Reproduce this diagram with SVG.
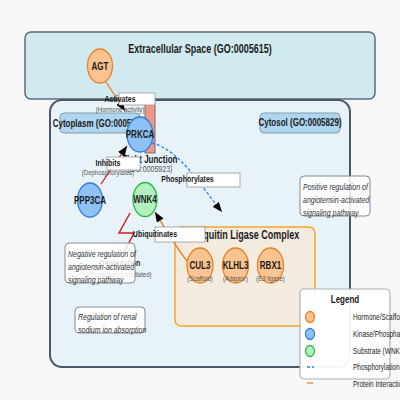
<svg xmlns="http://www.w3.org/2000/svg" width="400" height="400" viewBox="0 0 400 400">
<defs>
<style>
text{font-family:"Liberation Sans",Arial,sans-serif;fill:#1a1a1a}
.title{font-size:12px;font-weight:bold;text-anchor:middle}
.node{font-size:10.67px;font-weight:bold;text-anchor:middle}
.el{font-size:9.33px;font-weight:bold;text-anchor:middle}
.sub{font-size:8px;text-anchor:middle;fill:#555}
.go{font-size:9.33px;text-anchor:middle;fill:#555}
.note{font-size:9.33px;font-style:italic;fill:#333}
.lg{font-size:8.67px;fill:#222}
.lrect{fill:#fff;stroke:#999;stroke-width:0.8}
.notebox{fill:#fff;fill-opacity:0.85;stroke:#7f8c99;stroke-width:1}
.hs{fill:#f9c492;stroke:#e8822a;stroke-width:1.3}
.kp{fill:#8fc1f4;stroke:#2d7fe0;stroke-width:1.3}
.sb{fill:#b3f0bd;stroke:#2db84a;stroke-width:1.3}
.cmp{fill:#aed6f1;stroke:#8a9aa8;stroke-width:1}
.int{fill:none;stroke:#e67e22;stroke-width:1.3}
.inh{fill:none;stroke:#c62828;stroke-width:1.3}
.pho{fill:none;stroke:#2e86de;stroke-width:1.3;stroke-dasharray:3,2}
</style>
<marker id="ah" markerUnits="userSpaceOnUse" markerWidth="10" markerHeight="8" refX="10" refY="4" orient="auto"><path d="M0,0 L10,4 L0,8 z" fill="#000"/></marker>
</defs>
<rect x="0" y="0" width="400" height="400" fill="#f8f8f8"/>

<g id="extracellular">
<rect x="25" y="32" width="350" height="67" rx="6" fill="#d1eaf0" stroke="#5b6b7b" stroke-width="1.5"/>
<text class="title" transform="translate(200,53) scale(0.75,1)">Extracellular Space (GO:0005615)</text>
</g>

<g id="cell">
<rect x="50" y="100" width="300" height="267" rx="12" fill="#e7f3f8" stroke="#4a5868" stroke-width="2"/>
</g>

<g id="cytoplasm">
<rect class="cmp" x="60" y="113" width="80" height="20" rx="4"/>
<text class="node" transform="translate(100,127) scale(0.75,1)">Cytoplasm (GO:0005737)</text>
</g>
<g id="cytosol">
<rect class="cmp" x="260" y="113" width="80" height="20" rx="4"/>
<text class="node" transform="translate(300,126) scale(0.75,1)">Cytosol (GO:0005829)</text>
</g>

<g id="tight-junction">
<rect x="145" y="103" width="10" height="50" fill="#f1948a" stroke="#7a6a6a" stroke-width="1"/>
<text class="node" transform="translate(150,163) scale(0.75,1)">Tight Junction</text>
<text class="go" transform="translate(150,172) scale(0.75,1)">(GO:0005923)</text>
</g>

<g id="ubiquitin-complex">
<rect x="175" y="227" width="140" height="99" rx="6" fill="#f4ebdf" stroke="#f5a623" stroke-width="1.5"/>
<text class="title" transform="translate(244,239) scale(0.75,1)">Ubiquitin Ligase Complex</text>
</g>

<g id="connectors">
<path class="int" d="M106,82 L125,111" marker-end="url(#ah)"/>
<path class="inh" d="M101,184 L127,146" marker-end="url(#ah)"/>
<path class="pho" d="M152,143 C180,150 200,185 222,212" marker-end="url(#ah)"/>
<path class="int" d="M187,261 C178,250 166,230 155,212" marker-end="url(#ah)"/>
<polyline points="130,213 119,233 134,233 124,252" fill="none" stroke="#cc2222" stroke-width="1.5"/>
</g>

<g id="edge-labels">
<rect class="lrect" x="119" y="93" width="36" height="12"/>
<text class="el" transform="translate(120,102) scale(0.75,1)">Activates</text>
<text class="sub" transform="translate(120,112) scale(0.75,1)">(Hormone activity)</text>
<rect class="lrect" x="107" y="157" width="33" height="13"/>
<text class="el" transform="translate(108,166) scale(0.75,1)">Inhibits</text>
<text class="sub" transform="translate(108,175) scale(0.75,1)">(Dephosphorylates)</text>
<rect class="lrect" x="187" y="173" width="53" height="14"/>
<text class="el" transform="translate(187.5,182) scale(0.75,1)">Phosphorylates</text>
<rect class="lrect" x="155" y="227" width="50" height="15"/>
<text class="el" transform="translate(155,237) scale(0.75,1)">Ubiquitinates</text>
<text class="el" transform="translate(120,266) scale(0.75,1)">Degradation</text>
<text class="sub" transform="translate(120,277) scale(0.75,1)">(Proteasome-mediated)</text>
</g>

<g id="AGT">
<ellipse class="hs" cx="100" cy="66" rx="12.5" ry="17"/>
<text class="node" transform="translate(100,69.5) scale(0.75,1)">AGT</text>
</g>
<g id="PRKCA">
<ellipse class="kp" cx="140" cy="134.5" rx="13" ry="17.5"/>
<text class="node" transform="translate(140,138) scale(0.75,1)">PRKCA</text>
</g>
<g id="PPP3CA">
<ellipse class="kp" cx="90" cy="200" rx="12.5" ry="17"/>
<text class="node" transform="translate(90,203.5) scale(0.75,1)">PPP3CA</text>
</g>
<g id="WNK4">
<ellipse class="sb" cx="145" cy="199.5" rx="12" ry="17"/>
<text class="node" transform="translate(145,203) scale(0.75,1)">WNK4</text>
</g>
<g id="CUL3">
<ellipse class="hs" cx="200" cy="265.5" rx="13" ry="17.5"/>
<text class="node" transform="translate(200,269) scale(0.75,1)">CUL3</text>
<text class="sub" transform="translate(200,281) scale(0.75,1)">(Scaffold)</text>
</g>
<g id="KLHL3">
<ellipse class="hs" cx="235.5" cy="265.5" rx="13" ry="17.5"/>
<text class="node" transform="translate(235.5,269) scale(0.75,1)">KLHL3</text>
<text class="sub" transform="translate(235.5,281) scale(0.75,1)">(Adaptor)</text>
</g>
<g id="RBX1">
<ellipse class="hs" cx="270.5" cy="265.5" rx="13" ry="17.5"/>
<text class="node" transform="translate(270.5,269) scale(0.75,1)">RBX1</text>
<text class="sub" transform="translate(270.5,281) scale(0.75,1)">(E3 ligase)</text>
</g>

<g id="note-positive">
<rect class="notebox" x="300" y="176" width="70" height="40" rx="4"/>
<text class="note" transform="translate(303,190) scale(0.75,1)">Positive regulation of</text>
<text class="note" transform="translate(303,203) scale(0.75,1)">angiotensin-activated</text>
<text class="note" transform="translate(303,216) scale(0.75,1)">signaling pathway</text>
</g>
<g id="note-negative">
<rect class="notebox" x="65" y="243" width="70" height="40" rx="4"/>
<text class="note" transform="translate(68,257) scale(0.75,1)">Negative regulation of</text>
<text class="note" transform="translate(68,270) scale(0.75,1)">angiotensin-activated</text>
<text class="note" transform="translate(68,283) scale(0.75,1)">signaling pathway</text>
</g>
<g id="note-renal">
<rect class="notebox" x="75" y="307" width="70" height="26" rx="4"/>
<text class="note" transform="translate(78,320) scale(0.75,1)">Regulation of renal</text>
<text class="note" transform="translate(78,333) scale(0.75,1)">sodium ion absorption</text>
</g>

<g id="legend">
<rect x="300" y="289" width="90" height="90" rx="4" fill="#fff" fill-opacity="0.95" stroke="#aab2bb" stroke-width="1.2"/>
<text class="node" transform="translate(345,303) scale(0.75,1)">Legend</text>
<ellipse class="hs" cx="310" cy="317" rx="4.5" ry="5.5"/>
<text class="lg" transform="translate(353,320) scale(0.75,1)">Hormone/Scaffold</text>
<ellipse class="kp" cx="310" cy="334" rx="4.5" ry="5.5"/>
<text class="lg" transform="translate(353,337) scale(0.75,1)">Kinase/Phosphatase</text>
<ellipse class="sb" cx="310" cy="351" rx="4.5" ry="5.5"/>
<text class="lg" transform="translate(353,354) scale(0.75,1)">Substrate (WNK4)</text>
<line class="pho" x1="307" y1="367" x2="314" y2="367"/>
<text class="lg" transform="translate(353,370) scale(0.75,1)">Phosphorylation</text>
<line class="int" x1="307" y1="383" x2="313" y2="383"/>
<text class="lg" transform="translate(353,387) scale(0.75,1)">Protein Interaction</text>
</g>
</svg>
